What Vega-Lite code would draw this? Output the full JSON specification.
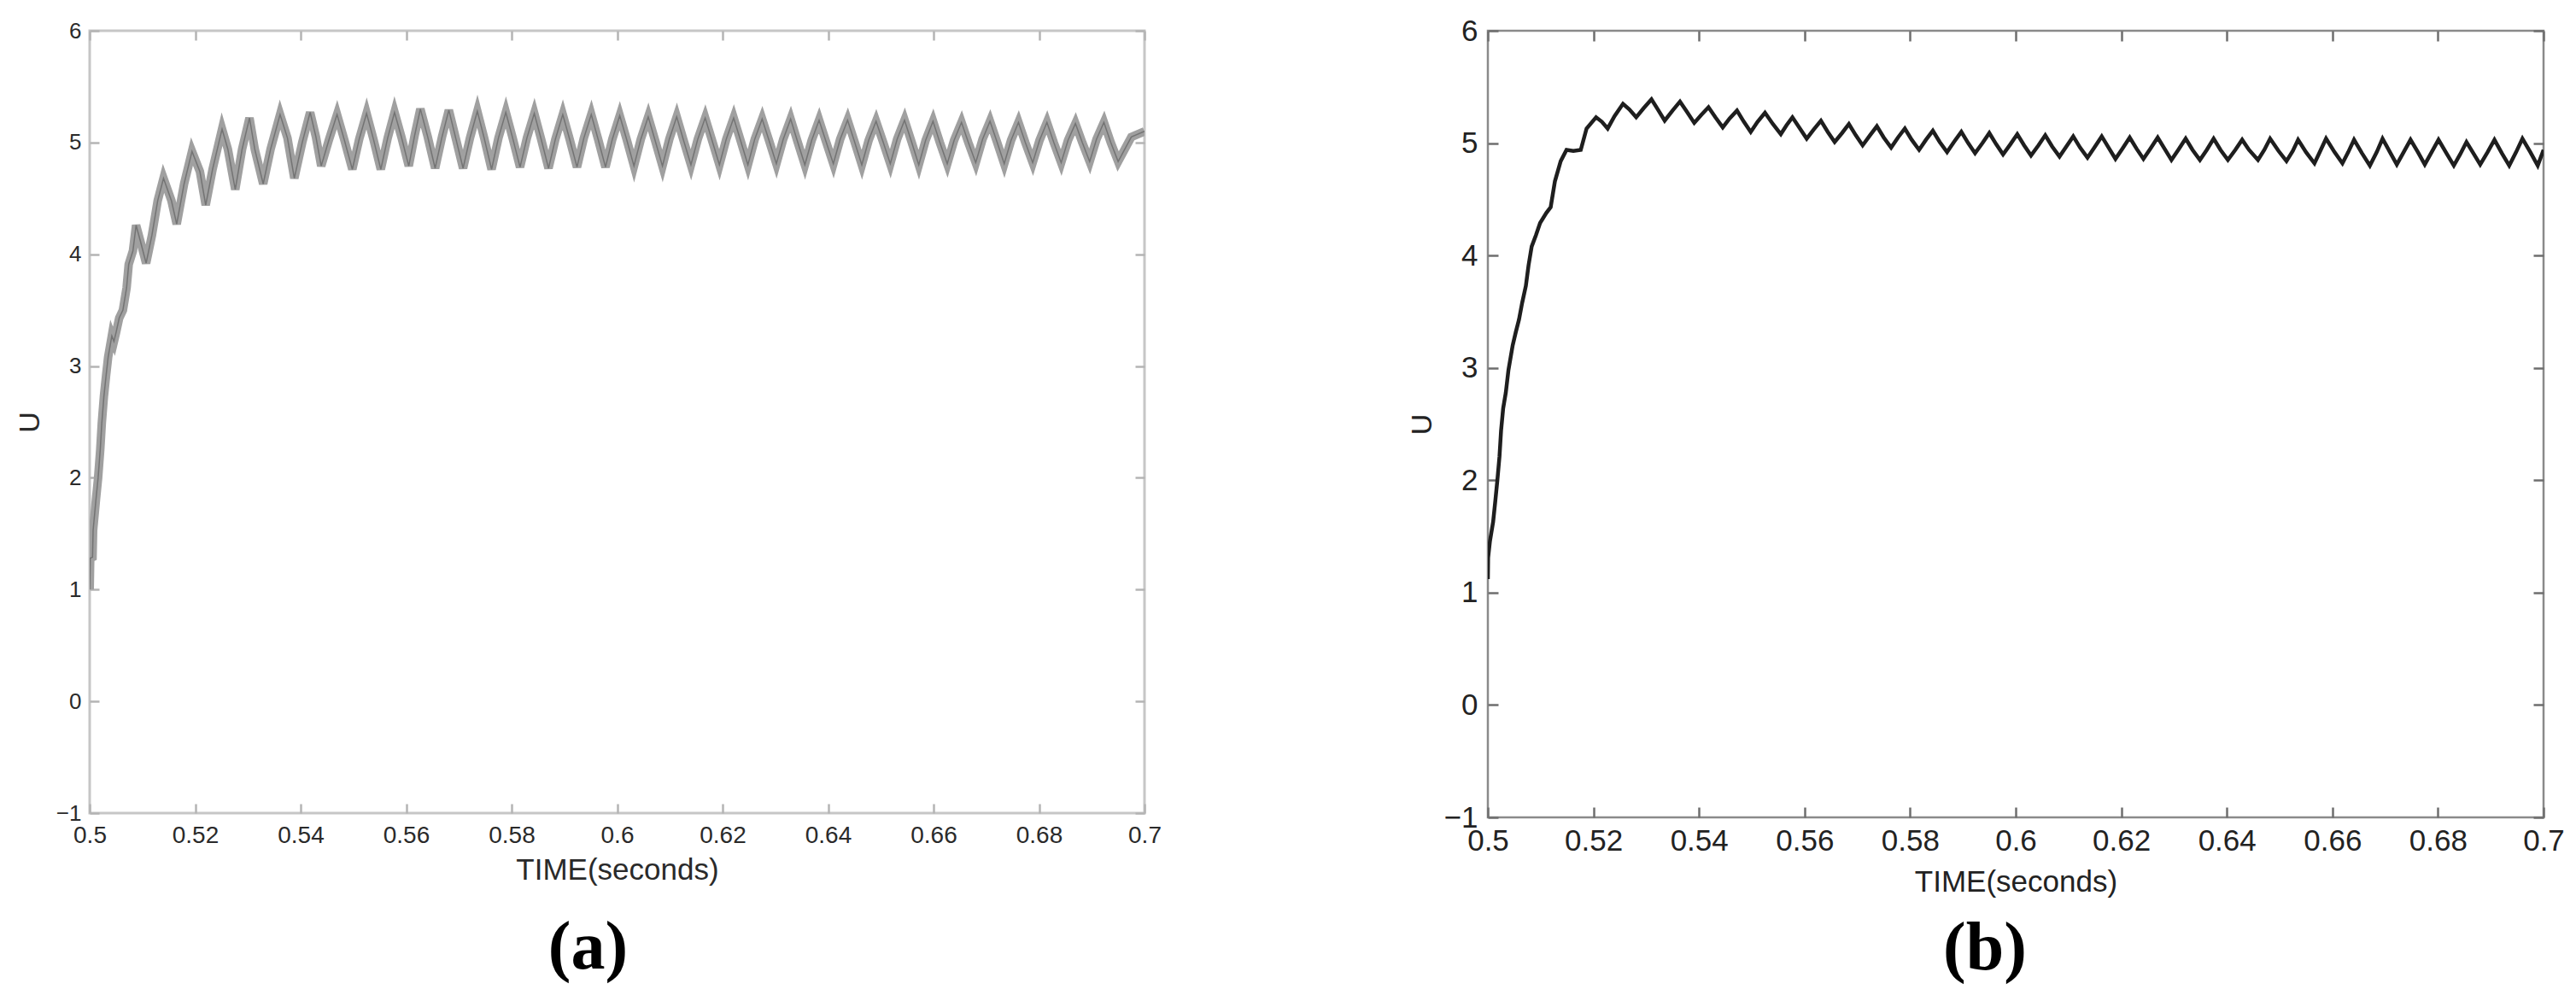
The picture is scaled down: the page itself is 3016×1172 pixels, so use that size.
{
  "$schema": "https://vega.github.io/schema/vega-lite/v6.json",
  "background": "white",
  "padding": {"left": 16, "top": 17, "right": 10, "bottom": 10},
  "bounds": "flush",
  "spacing": 402,
  "config": {"font": "Liberation Sans", "view": {"stroke": null}},
  "datasets": {
    "left": [
      {"t":0.5000,"u":1.00},{"t":0.5001,"u":1.28},{"t":0.50054,"u":1.29},{"t":0.50065,"u":1.53},{"t":0.5012,"u":1.81},{"t":0.5016,"u":2.00},{"t":0.5020,"u":2.25},{"t":0.5023,"u":2.49},{"t":0.5027,"u":2.73},{"t":0.5031,"u":2.91},{"t":0.5035,"u":3.08},{"t":0.5042,"u":3.27},{"t":0.5046,"u":3.22},{"t":0.5050,"u":3.30},{"t":0.5056,"u":3.43},{"t":0.5063,"u":3.50},{"t":0.5070,"u":3.70},{"t":0.5074,"u":3.91},{"t":0.5082,"u":4.03},{"t":0.5088,"u":4.26},{"t":0.5096,"u":4.12},{"t":0.5107,"u":3.92},{"t":0.5118,"u":4.17},{"t":0.5129,"u":4.48},{"t":0.5140,"u":4.68},{"t":0.5155,"u":4.48},{"t":0.5165,"u":4.27},{"t":0.5179,"u":4.63},{"t":0.5194,"u":4.92},{"t":0.5209,"u":4.74},{"t":0.5220,"u":4.44},{"t":0.5233,"u":4.76},{"t":0.5251,"u":5.12},{"t":0.5262,"u":4.94},{"t":0.5276,"u":4.58},{"t":0.5289,"u":4.94},{"t":0.5303,"u":5.22},{"t":0.5313,"u":4.94},{"t":0.5329,"u":4.63},{"t":0.5343,"u":4.94},{"t":0.5361,"u":5.25},{"t":0.5375,"u":5.04},{"t":0.5388,"u":4.68},
      {"t":0.5403,"u":5.00},{"t":0.5418,"u":5.27},{"t":0.5429,"u":5.05},{"t":0.5439,"u":4.79},
      {"t":0.5454,"u":5.03},{"t":0.5469,"u":5.25},{"t":0.5483,"u":5.02},{"t":0.5498,"u":4.76},
      {"t":0.5511,"u":5.03},{"t":0.5525,"u":5.26},{"t":0.5538,"u":5.03},{"t":0.5552,"u":4.76},
      {"t":0.5565,"u":5.04},{"t":0.5578,"u":5.27},{"t":0.5591,"u":5.05},{"t":0.5605,"u":4.79},
      {"t":0.5616,"u":5.06},{"t":0.5627,"u":5.30},{"t":0.5641,"u":5.05},{"t":0.5655,"u":4.77},
      {"t":0.5668,"u":5.05},{"t":0.5681,"u":5.29},{"t":0.5694,"u":5.04},{"t":0.5708,"u":4.77},
      {"t":0.5721,"u":5.04},{"t":0.5735,"u":5.28},{"t":0.5748,"u":5.04},{"t":0.5762,"u":4.76},
      {"t":0.5775,"u":5.04},{"t":0.5789,"u":5.27},{"t":0.5802,"u":5.04},{"t":0.5816,"u":4.78},
      {"t":0.5829,"u":5.04},{"t":0.5843,"u":5.26},{"t":0.5856,"u":5.03},{"t":0.5870,"u":4.77},
      {"t":0.5883,"u":5.03},{"t":0.5897,"u":5.25},{"t":0.5910,"u":5.03},{"t":0.5924,"u":4.78},
      {"t":0.5937,"u":5.04},{"t":0.5951,"u":5.25},{"t":0.5964,"u":5.03},{"t":0.5978,"u":4.78},
      {"t":0.5991,"u":5.03},{"t":0.6005,"u":5.24},{"t":0.6018,"u":5.03},{"t":0.6032,"u":4.79},
      {"t":0.6045,"u":5.03},{"t":0.6059,"u":5.23},{"t":0.6072,"u":5.02},{"t":0.6086,"u":4.79},
      {"t":0.6099,"u":5.03},{"t":0.6113,"u":5.23},{"t":0.6126,"u":5.02},{"t":0.6140,"u":4.80},
      {"t":0.6153,"u":5.03},{"t":0.6167,"u":5.22},{"t":0.6180,"u":5.02},{"t":0.6194,"u":4.80},
      {"t":0.6207,"u":5.03},{"t":0.6221,"u":5.22},{"t":0.6234,"u":5.02},{"t":0.6248,"u":4.80},
      {"t":0.6261,"u":5.03},{"t":0.6275,"u":5.21},{"t":0.6288,"u":5.02},{"t":0.6302,"u":4.81},
      {"t":0.6315,"u":5.03},{"t":0.6329,"u":5.21},{"t":0.6342,"u":5.01},{"t":0.6356,"u":4.80},
      {"t":0.6369,"u":5.02},{"t":0.6383,"u":5.20},{"t":0.6396,"u":5.01},{"t":0.6410,"u":4.81},
      {"t":0.6423,"u":5.03},{"t":0.6437,"u":5.20},{"t":0.6450,"u":5.01},{"t":0.6464,"u":4.80},
      {"t":0.6477,"u":5.02},{"t":0.6491,"u":5.19},{"t":0.6504,"u":5.01},{"t":0.6518,"u":4.81},
      {"t":0.6531,"u":5.03},{"t":0.6545,"u":5.20},{"t":0.6558,"u":5.01},{"t":0.6572,"u":4.80},
      {"t":0.6585,"u":5.02},{"t":0.6599,"u":5.19},{"t":0.6612,"u":5.00},{"t":0.6626,"u":4.81},
      {"t":0.6639,"u":5.02},{"t":0.6653,"u":5.18},{"t":0.6666,"u":5.00},{"t":0.6680,"u":4.82},
      {"t":0.6693,"u":5.03},{"t":0.6707,"u":5.19},{"t":0.6720,"u":5.01},{"t":0.6734,"u":4.81},
      {"t":0.6747,"u":5.02},{"t":0.6761,"u":5.18},{"t":0.6774,"u":5.00},{"t":0.6788,"u":4.82},
      {"t":0.6801,"u":5.02},{"t":0.6815,"u":5.18},{"t":0.6828,"u":5.00},{"t":0.6842,"u":4.82},
      {"t":0.6855,"u":5.02},{"t":0.6869,"u":5.17},{"t":0.6882,"u":5.00},{"t":0.6896,"u":4.83},
      {"t":0.6909,"u":5.03},{"t":0.6923,"u":5.18},{"t":0.6936,"u":5.00},{"t":0.6950,"u":4.83},
      {"t":0.6975,"u":5.05},{"t":0.7000,"u":5.10}
    ],
    "right": [
      {"t":0.5000,"u":1.12},{"t":0.50005,"u":1.31},{"t":0.5004,"u":1.46},{"t":0.5010,"u":1.63},{"t":0.5014,"u":1.81},{"t":0.5018,"u":2.00},{"t":0.5022,"u":2.21},{"t":0.5025,"u":2.44},{"t":0.5029,"u":2.64},{"t":0.5034,"u":2.78},{"t":0.5039,"u":2.98},{"t":0.5047,"u":3.20},{"t":0.5053,"u":3.32},{"t":0.5059,"u":3.43},{"t":0.5065,"u":3.58},{"t":0.5072,"u":3.73},{"t":0.5077,"u":3.91},{"t":0.5083,"u":4.08},{"t":0.5091,"u":4.18},{"t":0.5099,"u":4.29},{"t":0.5111,"u":4.38},{"t":0.5119,"u":4.43},{"t":0.5127,"u":4.66},{"t":0.5138,"u":4.84},{"t":0.5149,"u":4.94},{"t":0.5162,"u":4.93},{"t":0.5176,"u":4.94},{"t":0.5187,"u":5.13},{"t":0.5205,"u":5.23},{"t":0.5216,"u":5.19},{"t":0.5227,"u":5.13},{"t":0.5240,"u":5.24},{"t":0.5256,"u":5.35},{"t":0.5268,"u":5.30},{"t":0.5281,"u":5.23},{"t":0.5295,"u":5.31},{"t":0.5310,"u":5.39},{"t":0.5322,"u":5.30},{"t":0.5335,"u":5.20},{"t":0.5350,"u":5.29},{"t":0.5364,"u":5.37},{"t":0.5377,"u":5.28},{"t":0.5391,"u":5.18},{"t":0.5404,"u":5.25},{"t":0.5418,"u":5.32},{"t":0.5431,"u":5.23},{"t":0.5445,"u":5.14},{"t":0.5458,"u":5.22},{"t":0.5472,"u":5.29},{"t":0.5485,"u":5.19},{"t":0.5498,"u":5.10},{"t":0.5511,"u":5.19},{"t":0.5525,"u":5.27},{"t":0.5540,"u":5.17},{"t":0.5555,"u":5.08},{"t":0.5566,"u":5.16},{"t":0.5577,"u":5.23},
      {"t":0.5604,"u":5.04},{"t":0.5617,"u":5.12},{"t":0.5631,"u":5.20},{"t":0.5644,"u":5.10},{"t":0.5657,"u":5.01},{"t":0.5671,"u":5.09},{"t":0.5684,"u":5.17},{"t":0.5697,"u":5.07},{"t":0.5710,"u":4.98},{"t":0.5724,"u":5.07},{"t":0.5737,"u":5.15},{"t":0.5750,"u":5.05},{"t":0.5764,"u":4.96},{"t":0.5777,"u":5.05},{"t":0.5790,"u":5.13},{"t":0.5803,"u":5.03},{"t":0.5817,"u":4.94},{"t":0.5830,"u":5.03},{"t":0.5843,"u":5.11},{"t":0.5856,"u":5.01},{"t":0.5870,"u":4.92},{"t":0.5883,"u":5.01},{"t":0.5897,"u":5.10},{"t":0.5910,"u":5.00},{"t":0.5923,"u":4.91},{"t":0.5937,"u":5.00},{"t":0.5950,"u":5.09},{"t":0.5963,"u":4.99},{"t":0.5976,"u":4.90},{"t":0.5990,"u":4.99},{"t":0.6003,"u":5.08},{"t":0.6016,"u":4.98},{"t":0.6029,"u":4.89},{"t":0.6043,"u":4.98},{"t":0.6056,"u":5.07},{"t":0.6069,"u":4.97},{"t":0.6083,"u":4.88},{"t":0.6096,"u":4.97},{"t":0.6109,"u":5.06},{"t":0.6122,"u":4.96},{"t":0.6136,"u":4.87},{"t":0.6149,"u":4.96},{"t":0.6163,"u":5.06},{"t":0.6176,"u":4.96},{"t":0.6189,"u":4.86},{"t":0.6202,"u":4.95},{"t":0.6216,"u":5.05},{"t":0.6229,"u":4.95},{"t":0.6242,"u":4.86},{"t":0.6255,"u":4.95},{"t":0.6269,"u":5.05},{"t":0.6282,"u":4.95},{"t":0.6295,"u":4.85},{"t":0.6308,"u":4.94},{"t":0.6322,"u":5.04},{"t":0.6335,"u":4.94},{"t":0.6349,"u":4.85},{"t":0.6362,"u":4.94},{"t":0.6375,"u":5.04},{"t":0.6388,"u":4.94},{"t":0.6402,"u":4.85},{"t":0.6416,"u":4.94},{"t":0.6429,"u":5.03},{"t":0.6442,"u":4.94},{"t":0.6459,"u":4.85},{"t":0.6471,"u":4.94},{"t":0.6482,"u":5.04},{"t":0.6498,"u":4.93},{"t":0.6513,"u":4.84},{"t":0.6525,"u":4.93},{"t":0.6535,"u":5.03},{"t":0.6550,"u":4.92},{"t":0.6566,"u":4.82},{"t":0.6577,"u":4.93},{"t":0.6588,"u":5.04},{"t":0.6604,"u":4.92},{"t":0.6619,"u":4.82},{"t":0.6630,"u":4.92},{"t":0.6641,"u":5.03},{"t":0.6656,"u":4.91},{"t":0.6671,"u":4.80},{"t":0.6684,"u":4.92},{"t":0.6695,"u":5.04},{"t":0.6709,"u":4.92},{"t":0.6722,"u":4.81},{"t":0.6735,"u":4.92},{"t":0.6748,"u":5.03},{"t":0.6762,"u":4.92},{"t":0.6775,"u":4.81},{"t":0.6788,"u":4.92},{"t":0.6801,"u":5.03},{"t":0.6816,"u":4.91},{"t":0.6830,"u":4.80},{"t":0.6842,"u":4.90},{"t":0.6854,"u":5.01},{"t":0.6867,"u":4.91},{"t":0.6880,"u":4.81},{"t":0.6894,"u":4.92},{"t":0.6907,"u":5.03},{"t":0.6921,"u":4.91},{"t":0.6935,"u":4.80},{"t":0.6948,"u":4.92},{"t":0.6960,"u":5.04},{"t":0.6975,"u":4.92},{"t":0.6989,"u":4.80},{"t":0.7000,"u":4.94}
    ]
  },
  "hconcat": [
    {
      "width": 1235,
      "height": 916,
      "data": {"name": "left"},
      "view": {"stroke": "#c6c6c6", "strokeWidth": 3},
      "title": {"text": "(a)", "orient": "bottom", "anchor": "middle", "frame": "group", "dx": -34, "offset": 35, "font": "Liberation Serif", "fontSize": 80, "fontWeight": "bold", "color": "#000000"},
      "layer": [
        {
          "mark": {"type": "line", "color": "#a0a0a0", "strokeWidth": 10, "clip": true},
          "encoding": {
            "x": {"field": "t", "type": "quantitative", "scale": {"domain": [0.5, 0.7], "nice": false, "zero": false},
              "axis": {"orient": "bottom", "values": [0.5,0.52,0.54,0.56,0.58,0.6,0.62,0.64,0.66,0.68,0.7], "format": ".2~f", "grid": false, "domain": false, "tickSize": -11, "tickWidth": 2.5, "tickColor": "#b4b4b4", "labelFlush": false, "labelPadding": 23, "labelFont": "Liberation Sans", "labelFontSize": 28, "labelColor": "#2a2a2a", "title": "TIME(seconds)", "titleFont": "Liberation Sans", "titleFontSize": 35, "titleFontWeight": "normal", "titleColor": "#2a2a2a", "titleBaseline": "alphabetic", "titleY": 77}},
            "y": {"field": "u", "type": "quantitative", "scale": {"domain": [-1, 6], "nice": false, "zero": false},
              "axis": {"orient": "left", "values": [-1,0,1,2,3,4,5,6], "grid": false, "domain": false, "tickSize": -11, "tickWidth": 2.5, "tickColor": "#b4b4b4", "labelFlush": false, "labelPadding": 21, "labelFont": "Liberation Sans", "labelFontSize": 26, "labelColor": "#2a2a2a", "title": "U", "titleFont": "Liberation Sans", "titleFontSize": 34, "titleFontWeight": "normal", "titleColor": "#2a2a2a", "titleX": -70, "titleBaseline": "middle"}}
          }
        },
        {
          "mark": {"type": "line", "color": "#555555", "strokeWidth": 1.5, "opacity": 0.6, "clip": true},
          "encoding": {
            "x": {"field": "t", "type": "quantitative", "axis": {"orient": "top", "values": [0.5,0.52,0.54,0.56,0.58,0.6,0.62,0.64,0.66,0.68,0.7], "labels": false, "title": null, "grid": false, "domain": false, "tickSize": -11, "tickWidth": 2.5, "tickColor": "#b4b4b4"}},
            "y": {"field": "u", "type": "quantitative", "axis": {"orient": "right", "values": [-1,0,1,2,3,4,5,6], "labels": false, "title": null, "grid": false, "domain": false, "tickSize": -11, "tickWidth": 2.5, "tickColor": "#b4b4b4"}}
          }
        }
      ],
      "resolve": {"axis": {"x": "independent", "y": "independent"}}
    },
    {
      "width": 1236,
      "height": 921,
      "data": {"name": "right"},
      "view": {"stroke": "#8a8a8a", "strokeWidth": 2.5},
      "title": {"text": "(b)", "orient": "bottom", "anchor": "middle", "frame": "group", "dx": -36, "offset": 22, "font": "Liberation Serif", "fontSize": 80, "fontWeight": "bold", "color": "#000000"},
      "layer": [
        {
          "mark": {"type": "line", "color": "#1e1e1e", "strokeWidth": 4.5, "clip": true},
          "encoding": {
            "x": {"field": "t", "type": "quantitative", "scale": {"domain": [0.5, 0.7], "nice": false, "zero": false},
              "axis": {"orient": "bottom", "values": [0.5,0.52,0.54,0.56,0.58,0.6,0.62,0.64,0.66,0.68,0.7], "format": ".2~f", "grid": false, "domain": false, "tickSize": -12, "tickWidth": 2.5, "tickColor": "#6e6e6e", "labelFlush": false, "labelPadding": 22, "labelFont": "Liberation Sans", "labelFontSize": 35, "labelColor": "#222222", "title": "TIME(seconds)", "titleFont": "Liberation Sans", "titleFontSize": 35, "titleFontWeight": "normal", "titleColor": "#222222", "titleBaseline": "alphabetic", "titleY": 86}},
            "y": {"field": "u", "type": "quantitative", "scale": {"domain": [-1, 6], "nice": false, "zero": false},
              "axis": {"orient": "left", "values": [-1,0,1,2,3,4,5,6], "grid": false, "domain": false, "tickSize": -12, "tickWidth": 2.5, "tickColor": "#6e6e6e", "labelFlush": false, "labelPadding": 24, "labelFont": "Liberation Sans", "labelFontSize": 35, "labelColor": "#222222", "title": "U", "titleFont": "Liberation Sans", "titleFontSize": 34, "titleFontWeight": "normal", "titleColor": "#222222", "titleX": -77, "titleBaseline": "middle"}}
          }
        },
        {
          "mark": {"type": "line", "color": "#1e1e1e", "strokeWidth": 4, "opacity": 0, "clip": true},
          "encoding": {
            "x": {"field": "t", "type": "quantitative", "axis": {"orient": "top", "values": [0.5,0.52,0.54,0.56,0.58,0.6,0.62,0.64,0.66,0.68,0.7], "labels": false, "title": null, "grid": false, "domain": false, "tickSize": -12, "tickWidth": 2.5, "tickColor": "#6e6e6e"}},
            "y": {"field": "u", "type": "quantitative", "axis": {"orient": "right", "values": [-1,0,1,2,3,4,5,6], "labels": false, "title": null, "grid": false, "domain": false, "tickSize": -12, "tickWidth": 2.5, "tickColor": "#6e6e6e"}}
          }
        }
      ],
      "resolve": {"axis": {"x": "independent", "y": "independent"}}
    }
  ]
}
